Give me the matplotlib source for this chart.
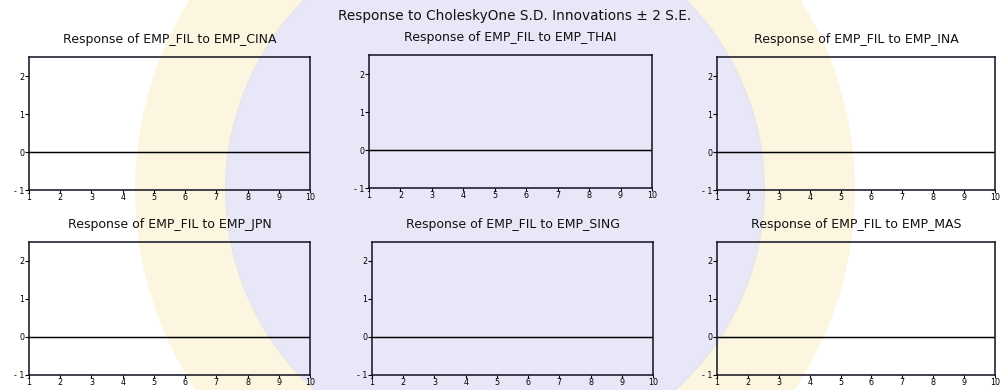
import matplotlib
matplotlib.use("Agg")
import matplotlib.pyplot as plt
from matplotlib.patches import Circle, Wedge

plt.rcParams["font.family"] = ["DejaVu Sans"]
plt.rcParams["axes.unicode_minus"] = False

periods = [1, 2, 3, 4, 5, 6, 7, 8, 9, 10]
shocks = ["EMP_CINA", "EMP_THAI", "EMP_INA", "EMP_JPN", "EMP_SING", "EMP_MAS"]
resp_cina = [0, 0, 0, 0, 0, 0, 0, 0, 0, 0]
resp_thai = [0, 0, 0, 0, 0, 0, 0, 0, 0, 0]
resp_ina = [0, 0, 0, 0, 0, 0, 0, 0, 0, 0]
resp_jpn = [0, 0, 0, 0, 0, 0, 0, 0, 0, 0]
resp_sing = [0, 0, 0, 0, 0, 0, 0, 0, 0, 0]
resp_mas = [0, 0, 0, 0, 0, 0, 0, 0, 0, 0]
responses = [resp_cina, resp_thai, resp_ina, resp_jpn, resp_sing, resp_mas]
y_ticks = [-1, 0, 1, 2]
y_labels = ["- 1", "0", "1", "2"]
x_ticks = periods

W, H = 1005, 390
fig = plt.figure(figsize=(W / 100, H / 100), dpi=100)

# faint seal in the background
bg = fig.add_axes([0, 0, 1, 1], zorder=0)
bg.set_xlim(0, W)
bg.set_ylim(H, 0)
bg.axis("off")
bg.add_patch(Wedge((495, 190), 360, 0, 360, width=92, color="#fbf1cc", alpha=0.6, lw=0))
bg.add_patch(Circle((495, 190), 270, color="#dedef6", alpha=0.7, lw=0))

# panel boxes in pixels: left, top, right, bottom
boxes = [
    (29, 57, 310, 190), (369, 55, 652, 188), (717, 57, 995, 190),
    (29, 242, 310, 375), (372, 242, 653, 375), (717, 242, 995, 375),
]

for box, shock, resp in zip(boxes, shocks, responses):
    l, t, r, b = box
    ax = fig.add_axes([l / W, 1 - b / H, (r - l) / W, (b - t) / H], zorder=1)
    ax.set_facecolor("none")
    ax.plot(periods, resp, color="black", lw=1.0)
    ax.axhline(0, color="black", lw=0.8)
    ax.set_xlim(1, 10)
    ax.set_ylim(-1, 2.5)
    ax.set_xticks(x_ticks)
    ax.set_yticks(y_ticks)
    ax.set_yticklabels(y_labels)
    ax.tick_params(labelsize=5.8, width=0.8, pad=0.5, color="black")
    ax.tick_params(axis="x", length=2)
    ax.tick_params(axis="y", length=3)
    for s in ax.spines.values():
        s.set_linewidth(1.1)
        s.set_color("#101020")
    ax.set_title("Response of EMP_FIL to " + shock, fontsize=9, pad=10, color="#111111")

fig.text(515 / W, 1 - 16 / H, "Response to CholeskyOne S.D. Innovations \u00b1 2 S.E.",
         ha="center", va="center", fontsize=9.8, color="#111111")

fig.savefig("out.png", dpi=100)
plt.close()
